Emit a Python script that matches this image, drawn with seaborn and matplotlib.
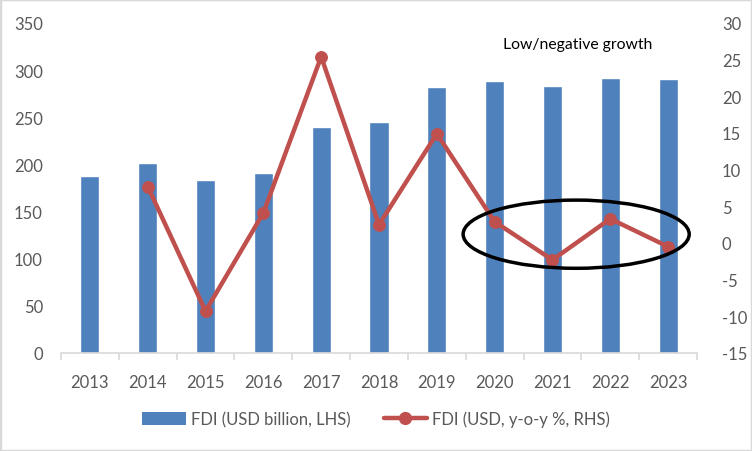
import numpy as np
import matplotlib
matplotlib.use("Agg")
import matplotlib.pyplot as plt
import seaborn as sns
from matplotlib.patches import Ellipse, Patch, Rectangle
from matplotlib.lines import Line2D

years = ["2013", "2014", "2015", "2016", "2017", "2018", "2019", "2020", "2021", "2022", "2023"]
fdi_usd_bn = [188, 202, 184, 191, 240, 245, 282, 289, 283, 292, 291]
fdi_yoy = [np.nan, 7.7, -9.3, 4.1, 25.4, 2.5, 14.9, 2.9, -2.3, 3.3, -0.5]

BAR_COLOR = "#4F81BD"
LINE_COLOR = "#C0504D"
TEXT_COLOR = "#595959"
AXIS_COLOR = "#D9D9D9"

sns.set_theme(style="white")
plt.rcParams["font.family"] = ["Lato", "DejaVu Sans"]
plt.rcParams["axes.unicode_minus"] = False

fig = plt.figure(figsize=(7.52, 4.52), dpi=100)
ax = fig.add_axes([61 / 752, 98 / 452, 636 / 752, 330 / 452])

sns.barplot(x=years, y=fdi_usd_bn, color=BAR_COLOR, saturation=1, width=0.33, ax=ax)
ax.set_ylim(0, 350)
ax.set_yticks(range(0, 351, 50))
ax.set_xlim(-0.5, len(years) - 0.5)

ax2 = ax.twinx()
pos = np.arange(len(years))
sns.lineplot(x=pos, y=fdi_yoy, color=LINE_COLOR, linewidth=3.2, marker="o",
             markersize=8.5, markeredgecolor=LINE_COLOR, ax=ax2)
ax2.set_ylim(-15, 30)
ax2.set_yticks(range(-15, 31, 5))

# x axis: ticks between categories
ax.set_xticks(pos)
ax.set_xticklabels(years)
ax.set_xticks(np.arange(-0.5, len(years), 1), minor=True)
ax.tick_params(axis="x", which="major", length=0, pad=15, labelsize=12, labelcolor=TEXT_COLOR)
ax.tick_params(axis="x", which="minor", length=5, width=1.2, color=AXIS_COLOR, direction="out", bottom=True)
ax.tick_params(axis="y", length=0, pad=13, labelsize=12, labelcolor=TEXT_COLOR)
ax2.tick_params(axis="y", length=0, pad=18, labelsize=12, labelcolor=TEXT_COLOR)
ax.set_xlabel("")
ax.set_ylabel("")
ax2.set_ylabel("")

for a in (ax, ax2):
    for s in ("top", "left", "right", "bottom"):
        a.spines[s].set_visible(False)
ax.spines["bottom"].set_visible(True)
ax.spines["bottom"].set_color(AXIS_COLOR)
ax.spines["bottom"].set_linewidth(1.2)
if ax2.get_legend():
    ax2.get_legend().remove()

# annotation
ax2.add_patch(Ellipse((8.41, 1.2), 3.91, 9.3, fill=False, edgecolor="black", linewidth=2.5, zorder=5))
ax2.text(8.43, 27.1, "Low/negative growth", ha="center", va="center", fontsize=11.3, color="black")

handles = [
    Patch(facecolor=BAR_COLOR, edgecolor="none", label="FDI (USD billion, LHS)"),
    Line2D([0], [0], color=LINE_COLOR, linewidth=3.2, marker="o", markersize=8.5,
           label="FDI (USD, y-o-y %, RHS)"),
]
fig.legend(handles=handles, loc="center", bbox_to_anchor=(0.5, 1 - 420 / 452), ncol=2,
           frameon=False, fontsize=12, labelcolor=TEXT_COLOR, handlelength=2.6,
           handleheight=0.8, handletextpad=0.3, columnspacing=2.0)

fig.patches.append(Rectangle((0, 0), 1, 1, transform=fig.transFigure, fill=False,
                             edgecolor=AXIS_COLOR, linewidth=2.5))

fig.savefig("out.png", dpi=100)
